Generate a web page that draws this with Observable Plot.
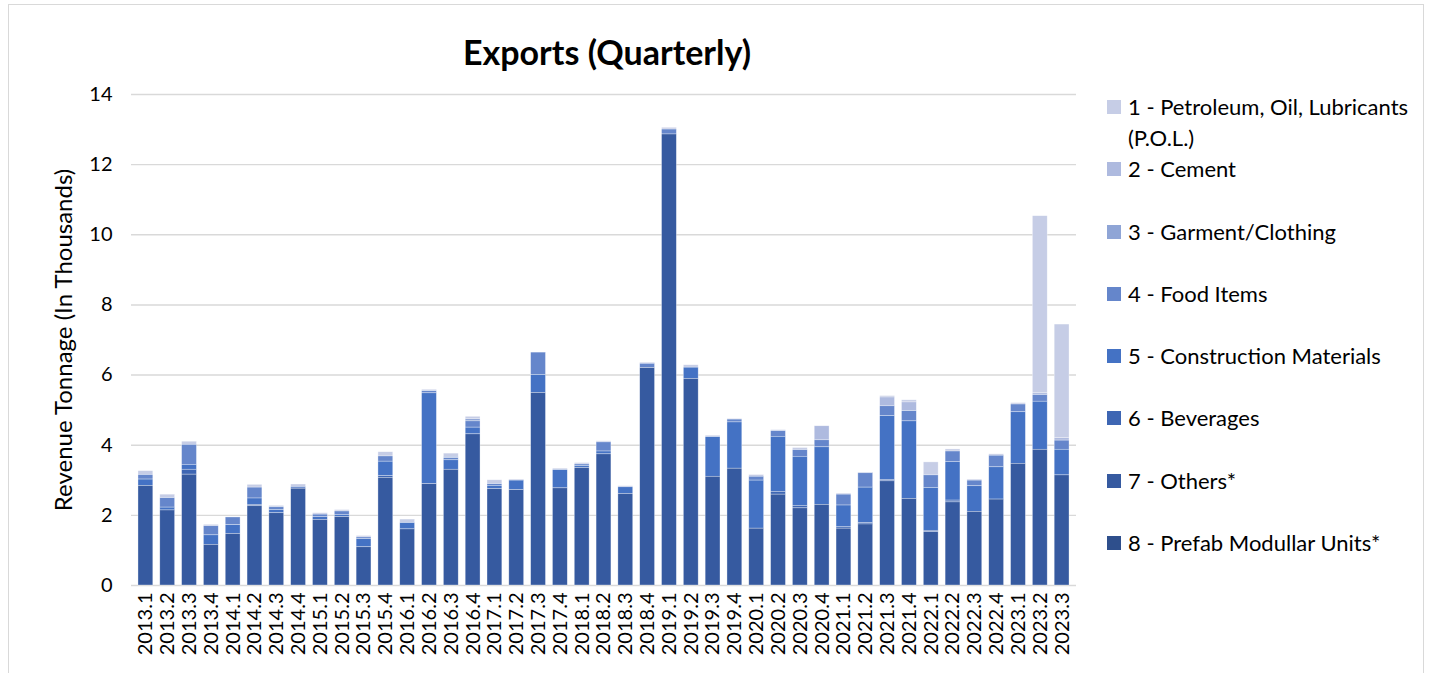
<!DOCTYPE html>
<html><head><meta charset="utf-8">
<script src="https://cdn.jsdelivr.net/npm/d3@7"></script>
<script src="https://cdn.jsdelivr.net/npm/@observablehq/plot@0.6"></script>
<style>
body{margin:0;background:#fff;font-family:Lato,sans-serif;color:#000;}
#wrap{position:relative;width:1433px;height:673px;overflow:hidden;background:#fff;}
#frame{position:absolute;left:8px;top:4px;width:1416px;height:700px;border:1.5px solid #d9d9d9;box-sizing:border-box;}
#chart{position:absolute;left:0;top:0;}
#title{position:absolute;left:0;width:1214px;top:31px;text-align:center;font-weight:700;font-size:34px;line-height:42px;}
#ytitle{position:absolute;left:62px;top:340px;transform:translate(-50%,-50%) rotate(-90deg);white-space:nowrap;font-size:24px;}
#legend{position:absolute;left:1107px;top:0;}
.li{position:absolute;left:0;white-space:nowrap;font-size:22px;line-height:31px;}
.sw{position:absolute;left:0;width:14px;height:14px;}
.lt{position:absolute;left:21px;}
</style>
</head><body>
<div id="wrap">
  <div id="frame"></div>
  <div id="chart"></div>
  <div id="title">Exports (Quarterly)</div>
  <div id="ytitle">Revenue Tonnage (In Thousands)</div>
  <div id="legend"></div>
</div>
<script>
const quarters = ["2013.1","2013.2","2013.3","2013.4","2014.1","2014.2","2014.3","2014.4","2015.1","2015.2","2015.3","2015.4","2016.1","2016.2","2016.3","2016.4","2017.1","2017.2","2017.3","2017.4","2018.1","2018.2","2018.3","2018.4","2019.1","2019.2","2019.3","2019.4","2020.1","2020.2","2020.3","2020.4","2021.1","2021.2","2021.3","2021.4","2022.1","2022.2","2022.3","2022.4","2023.1","2023.2","2023.3"];

const seriesNames = ["1 - Petroleum, Oil, Lubricants (P.O.L.)","2 - Cement","3 - Garment/Clothing","4 - Food Items","5 - Construction Materials","6 - Beverages","7 - Others*","8 - Prefab Modullar Units*"];
const seriesColors = ["#c6cde6","#aebadf","#8fa5d6","#6586cb","#4472c4","#3e66b3","#365aa0","#2e4f8c"];

const pol      = [0.11,0.10,0.09,0.04,0,0.08,0.04,0.07,0.04,0.04,0.04,0.12,0.10,0.04,0.09,0.07,0.11,0.03,0,0.04,0.04,0.03,0.03,0.03,0.05,0.07,0.04,0.02,0.05,0.03,0.06,0,0.03,0.02,0.04,0.06,0.37,0.06,0.03,0.04,0.04,5.05,3.24];
const cement   = [0,0,0,0,0,0,0,0,0,0,0,0,0,0,0,0,0,0,0,0,0,0,0,0,0,0,0,0,0,0,0,0.40,0,0,0.25,0.25,0,0,0,0,0,0.05,0.07];
const garment  = [0,0,0,0,0,0,0,0,0,0,0,0,0,0,0.04,0.06,0,0,0,0,0,0,0,0,0,0,0,0,0,0,0,0,0,0,0,0,0,0,0,0,0,0,0];
const food     = [0.13,0.27,0.57,0.26,0.22,0.31,0.08,0.05,0.07,0.10,0.05,0.15,0,0.06,0.06,0.18,0.05,0,0.64,0,0.05,0.26,0,0.12,0.14,0,0,0.08,0.11,0.16,0.19,0.20,0.31,0.41,0.28,0.29,0.36,0.30,0.16,0.33,0.22,0.19,0.26];
const construction = [0.18,0.08,0.14,0.27,0.25,0.18,0.09,0,0.08,0.06,0.23,0.41,0.18,2.59,0.27,0.19,0.09,0.27,0.51,0.52,0.05,0.08,0.19,0,0,0.32,1.13,1.32,1.37,1.57,1.40,1.64,0.62,1.01,1.82,2.21,1.22,1.10,0.73,0.92,1.47,1.37,0.73];
const beverages = [0,0,0.14,0,0,0.04,0,0,0,0,0,0.05,0,0,0,0,0,0,0,0,0,0,0,0,0,0,0,0,0,0.08,0.07,0,0.04,0.04,0.04,0,0.04,0.05,0,0,0,0,0];
const others   = [2.84,2.14,3.16,1.16,1.47,2.26,2.06,2.76,1.87,1.95,1.09,3.07,1.60,2.89,3.30,4.31,2.75,2.72,5.49,2.77,3.35,3.74,2.61,6.20,12.86,5.89,3.10,3.33,1.62,2.59,2.20,2.30,1.62,1.74,2.97,2.47,1.52,2.37,2.10,2.45,3.47,3.87,3.14];
const prefab   = [0,0,0,0,0,0,0,0,0,0,0,0,0,0,0,0,0,0,0,0,0,0,0,0,0,0,0,0,0,0,0,0,0,0,0,0,0,0,0,0,0,0,0];

const yTicks = [0,2,4,6,8,10,12,14];

const seriesValues = [pol, cement, garment, food, construction, beverages, others, prefab];
const rows = [];
quarters.forEach((q, i) => {
  seriesNames.forEach((s, k) => rows.push({quarter: q, series: s, value: seriesValues[k][i]}));
});
const stackOrder = seriesNames.slice().reverse();

const chart = Plot.plot({
  width: 1433,
  height: 673,
  marginLeft: 131,
  marginRight: 357,
  marginTop: 94,
  marginBottom: 88,
  style: {fontFamily: "Lato, sans-serif", fontSize: "20px", color: "#000", background: "transparent"},
  x: {domain: quarters, padding: 0.32, label: null, tickRotate: -90, tickSize: 0, tickPadding: 7},
  y: {domain: [0, 14], ticks: yTicks, label: null, tickSize: 0, tickPadding: 19},
  color: {domain: seriesNames, range: seriesColors},
  marks: [
    Plot.ruleY(yTicks, {stroke: "#d9d9d9", strokeWidth: 1.4}),
    Plot.barY(rows, {x: "quarter", y: "value", fill: "series", order: stackOrder, stroke: "#ffffff", strokeWidth: 0.6, strokeOpacity: 0.55})
  ]
});
document.getElementById("chart").appendChild(chart);

const legendTops = [106, 168, 231, 293, 355, 417, 480, 542];
const legend = document.getElementById("legend");
seriesNames.forEach((s, k) => {
  const li = document.createElement("div");
  li.className = "li";
  li.style.top = (legendTops[k] - 15) + "px";
  const sw = document.createElement("div");
  sw.className = "sw";
  sw.style.background = seriesColors[k];
  sw.style.top = "9px";
  const t = document.createElement("div");
  t.className = "lt";
  if (k === 0) t.innerHTML = "1 - Petroleum, Oil, Lubricants<br>(P.O.L.)";
  else t.textContent = s;
  li.appendChild(sw); li.appendChild(t);
  legend.appendChild(li);
});
</script>
</body></html>
